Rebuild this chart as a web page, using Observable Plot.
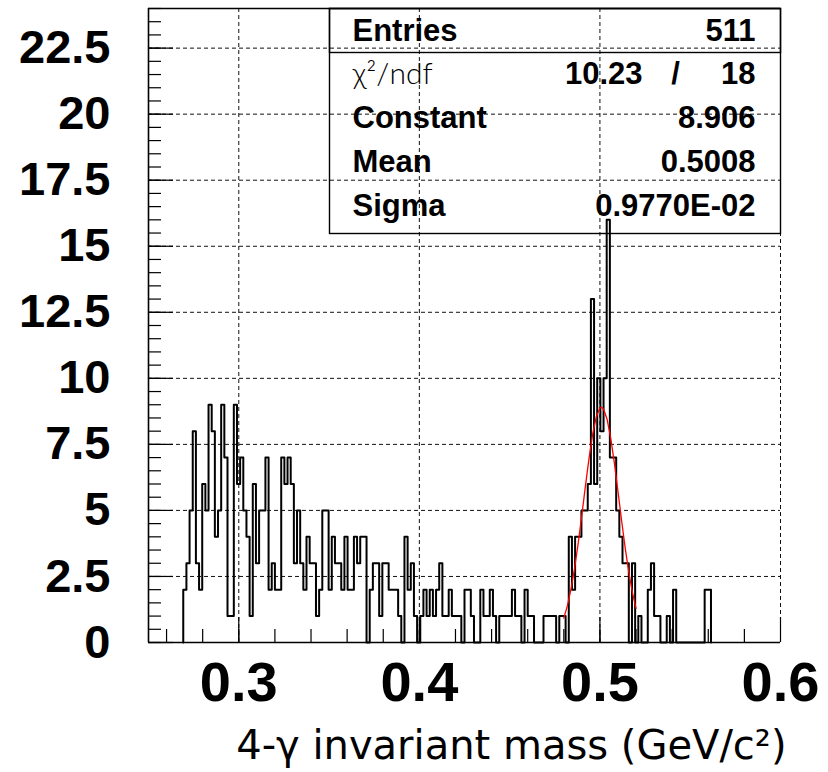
<!DOCTYPE html>
<html><head><meta charset="utf-8">
<script src="https://cdn.jsdelivr.net/npm/d3@7"></script>
<script src="https://cdn.jsdelivr.net/npm/@observablehq/plot@0.6"></script>
<style>
body{margin:0;background:#fff;}
#chart svg{display:block;background:#fff;}
</style></head><body><div id="chart"></div>
<script>
// ---- data ----
const binStart = 0.25;      // histogram low edge
const binWidth = 0.00175;   // bin width (GeV/c^2)
const firstBin = 11;        // index of first non-empty bin
const counts = [
  2,3,5,8,3,2,6,5,9,8,4,5,9,7,1,1,9,6,7,5,4,
  1,6,3,5,5,7,2,3,2,2,7,6,7,6,3,5,3,2,4,3,
  3,1,2,5,5,2,4,3,3,2,4,2,2,4,3,4,4,0,2,3,3,1,3,3,2,2,2,1,0,4,
  2,3,1,0,1,2,1,2,1,2,3,1,1,2,1,1,1,0,
  2,2,1,0,0,2,1,1,2,1,0,1,1,1,1,2,1,1,0,2,1,1,0,0,0,1,1,1,1,0,1,1,0,
  4,2,4,4,5,5,6,13,6,10,8,10,16,7,7,5,4,3,3,
  0,3,0,1,0,0,2,3,1,1,0,0,1,0,2,0,0,0,0,0,0,0,0,0,2,2
];
// Gaussian fit curve points
const fitX = [0.480,0.482,0.484,0.486,0.488,0.490,0.492,0.494,0.496,0.498,0.500,0.5008,0.502,0.504,0.506,0.508,0.510,0.512,0.514,0.516,0.518,0.520];
const fitY = [0.924,1.398,2.031,2.828,3.775,4.834,5.937,6.990,7.893,8.548,8.876,8.906,8.839,8.441,7.730,6.788,5.717,4.617,3.575,2.655,1.891,1.291];

const xTickValues = [0.3, 0.4, 0.5, 0.6];
const xTickLabels = ["0.3", "0.4", "0.5", "0.6"];
const yTickValues = [0, 2.5, 5, 7.5, 10, 12.5, 15, 17.5, 20, 22.5];
const yTickLabels = ["0", "2.5", "5", "7.5", "10", "12.5", "15", "17.5", "20", "22.5"];
const xMinorStep = 0.02;
const yMinorStep = 0.5;

const statNames = ["Entries", "χ²/ndf", "Constant", "Mean", "Sigma"];
const statValues = ["511", "10.23 / 18", "8.906", "0.5008", "0.9770E-02"];
const axisTitle = "4-γ invariant mass (GeV/c²)";

// ---- build ----
const W = 828, H = 772, mL = 148, mR = 48, mT = 8, mB = 130;
const frameW = W - mL - mR, frameH = H - mT - mB;
const xDomain = [0.25, 0.6], yDomain = [0, 24];

const edges = counts.map((c, i) => binStart + (firstBin + i) * binWidth);
const steps = [{x: edges[0], y: 0}]
  .concat(counts.map((c, i) => ({x: edges[i], y: c})))
  .concat([{x: edges[edges.length - 1] + binWidth, y: 0}]);
const fit = fitX.map((x, i) => ({x, y: fitY[i]}));
const xMinor = d3.range(0.26, 0.5901, xMinorStep);
const yMinor = d3.range(0, 24.01, yMinorStep);

const bold = "Liberation Sans, Arial, Helvetica, sans-serif";
const grid = {stroke: "#111", strokeWidth: 1, strokeDasharray: "4,3"};

const rowY0 = 32, rowStep = 43.75;
const statMarks = [];
statNames.forEach((name, i) => {
  const dy = rowY0 + i * rowStep;
  if (i === 1) {
    statMarks.push(Plot.text([name], {text: d => d, frameAnchor: "top-left", dx: 204, dy, lineAnchor: "bottom",
      textAnchor: "start", fontSize: 30, fontWeight: 300, fontFamily: "Lato, DejaVu Sans, sans-serif", fill: "#000"}));
    const parts = statValues[i].split(" / ");
    statMarks.push(Plot.text([parts[0]], {text: d => d, frameAnchor: "top-right", dx: -138, dy, lineAnchor: "bottom",
      textAnchor: "end", fontSize: 31, fontWeight: "bold", fontFamily: bold, fill: "#000"}));
    statMarks.push(Plot.text(["/"], {text: d => d, frameAnchor: "top-right", dx: -105, dy, lineAnchor: "bottom",
      textAnchor: "middle", fontSize: 31, fontWeight: "bold", fontFamily: bold, fill: "#000"}));
    statMarks.push(Plot.text([parts[1]], {text: d => d, frameAnchor: "top-right", dx: -25, dy, lineAnchor: "bottom",
      textAnchor: "end", fontSize: 31, fontWeight: "bold", fontFamily: bold, fill: "#000"}));
  } else {
    statMarks.push(Plot.text([name], {text: d => d, frameAnchor: "top-left", dx: 204, dy, lineAnchor: "bottom",
      textAnchor: "start", fontSize: 31, fontWeight: "bold", fontFamily: bold, fill: "#000"}));
    statMarks.push(Plot.text([statValues[i]], {text: d => d, frameAnchor: "top-right", dx: -25, dy, lineAnchor: "bottom",
      textAnchor: "end", fontSize: 31, fontWeight: "bold", fontFamily: bold, fill: "#000"}));
  }
});

const chart = Plot.plot({
  width: W, height: H,
  marginLeft: mL, marginRight: mR, marginTop: mT, marginBottom: mB,
  x: {domain: xDomain, axis: null},
  y: {domain: yDomain, axis: null},
  style: {fontFamily: bold, background: "#fff", color: "#000"},
  marks: [
    Plot.ruleX(xTickValues, {x: d => d, ...grid}),
    Plot.ruleY(yTickValues.slice(1), {y: d => d, ...grid}),
    Plot.ruleX(xMinor, {x: d => d, insetTop: frameH - 13, stroke: "#000", strokeWidth: 1.2}),
    Plot.ruleX(xTickValues, {x: d => d, insetTop: frameH - 25, stroke: "#000", strokeWidth: 1.2}),
    Plot.ruleY(yMinor, {y: d => d, insetRight: frameW - 13, stroke: "#000", strokeWidth: 1.2}),
    Plot.ruleY(yTickValues, {y: d => d, insetRight: frameW - 25, stroke: "#000", strokeWidth: 1.2}),
    Plot.line(steps, {x: "x", y: "y", curve: "step-after", stroke: "#000", strokeWidth: 2}),
    Plot.line(fit, {x: "x", y: "y", stroke: "#ff0000", strokeWidth: 1.3}),
    // frame: solid left, bottom and top edges
    Plot.ruleX([xDomain[0]], {x: d => d, stroke: "#000", strokeWidth: 1.6}),
    Plot.ruleY([yDomain[0], yDomain[1]], {y: d => d, stroke: "#000", strokeWidth: 1.6}),
    // statistics box
    Plot.frame({insetLeft: 181, insetBottom: 409, stroke: "#000", strokeWidth: 1.4}),
    Plot.frame({insetLeft: 181, insetBottom: 590, stroke: "#000", strokeWidth: 1.4}),
    ...statMarks,
    Plot.text(xTickValues, {x: d => d, text: (d, i) => xTickLabels[i], frameAnchor: "bottom", dy: 19, lineAnchor: "top",
      fontSize: 56, fontWeight: "bold", fontFamily: bold, fill: "#000", ariaLabel: "x-labels"}),
    Plot.text(yTickValues, {y: d => d, text: (d, i) => yTickLabels[i], frameAnchor: "left", dx: -38, textAnchor: "end",
      fontSize: 47, fontWeight: "bold", fontFamily: bold, fill: "#000"}),
    Plot.text([axisTitle], {text: d => d, frameAnchor: "bottom-right", dx: 6, dy: 116, lineAnchor: "bottom", textAnchor: "end",
      fontSize: 40, fontFamily: "DejaVu Sans, sans-serif", fill: "#000"})
  ]
});
// condensed look of the x tick labels
chart.querySelectorAll('g[aria-label="x-labels"] text').forEach(t => {
  const tr = t.getAttribute("transform");
  if (tr) t.setAttribute("transform", tr + " scale(0.84,1)");
});
document.getElementById("chart").appendChild(chart);
</script>
</body></html>
